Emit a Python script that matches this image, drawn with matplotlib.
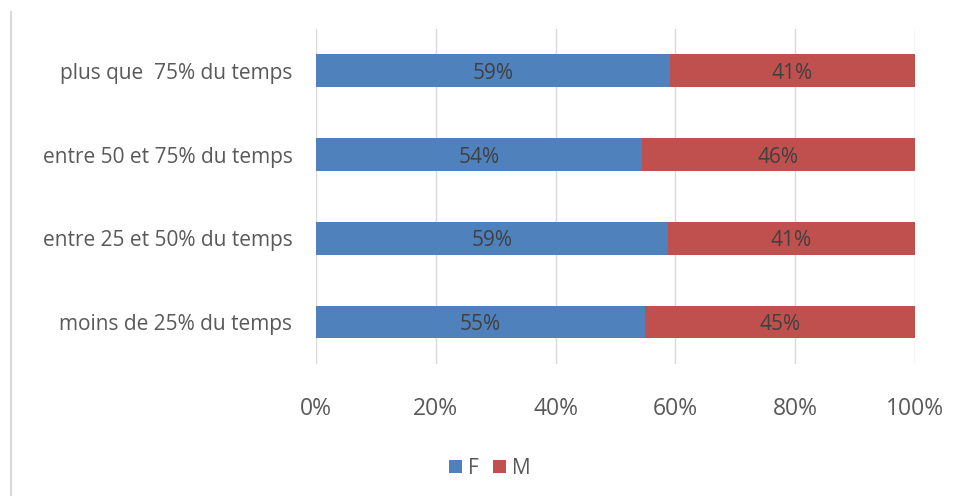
import matplotlib
matplotlib.use("Agg")
import matplotlib.pyplot as plt
from matplotlib.lines import Line2D
import numpy as np

# données
categories = ["moins de 25% du temps", "entre 25 et 50% du temps",
              "entre 50 et 75% du temps", "plus que  75% du temps"]
f_vals = [54.9, 58.7, 54.4, 59.1]
m_vals = [45.1, 41.3, 45.6, 40.9]
f_labels = ["55%", "59%", "54%", "59%"]
m_labels = ["45%", "41%", "46%", "41%"]
xticks = [0, 20, 40, 60, 80, 100]

blue = "#4F81BD"
red = "#C0504D"
txt = "#595959"
font = ["Open Sans", "DejaVu Sans"]

fig = plt.figure(figsize=(9.55, 4.99), dpi=100)
ax = fig.add_axes([0.331, 0.271, 0.627, 0.671])

y = np.arange(len(categories))
h = 0.39
ax.barh(y, f_vals, height=h, color=blue, label="F")
ax.barh(y, m_vals, left=f_vals, height=h, color=red, label="M")

for i in range(len(categories)):
    ax.text(f_vals[i] / 2, y[i], f_labels[i], ha="center", va="center_baseline",
            fontsize=15, color="#404040", family=font)
    ax.text(f_vals[i] + m_vals[i] / 2, y[i], m_labels[i], ha="center",
            va="center_baseline", fontsize=15, color="#404040", family=font)

ax.set_xlim(0, 100)
ax.set_ylim(-0.5, len(categories) - 0.5)
ax.set_xticks(xticks)
ax.set_xticklabels([f"{v}%" for v in xticks], family=font, fontsize=16.5, color=txt)
ax.set_yticks(y)
ax.set_yticklabels(categories, family=font, fontsize=15, color=txt)
ax.tick_params(axis="both", length=0)
ax.tick_params(axis="x", pad=24)
ax.tick_params(axis="y", pad=17)
ax.grid(axis="x", color="#D9D9D9", linewidth=1)
ax.set_axisbelow(True)
for s in ax.spines.values():
    s.set_visible(False)

fig.legend(loc="center", bbox_to_anchor=(0.513, 0.062), ncol=2, frameon=False,
           handlelength=0.6, handleheight=0.6, handletextpad=0.3,
           columnspacing=0.7, prop={"family": font, "size": 15},
           labelcolor=txt)

fig.add_artist(Line2D([0.011, 0.011], [0.008, 0.976], color="#D9D9D9",
                      linewidth=1.5, transform=fig.transFigure))

fig.savefig("out.png", dpi=100)
